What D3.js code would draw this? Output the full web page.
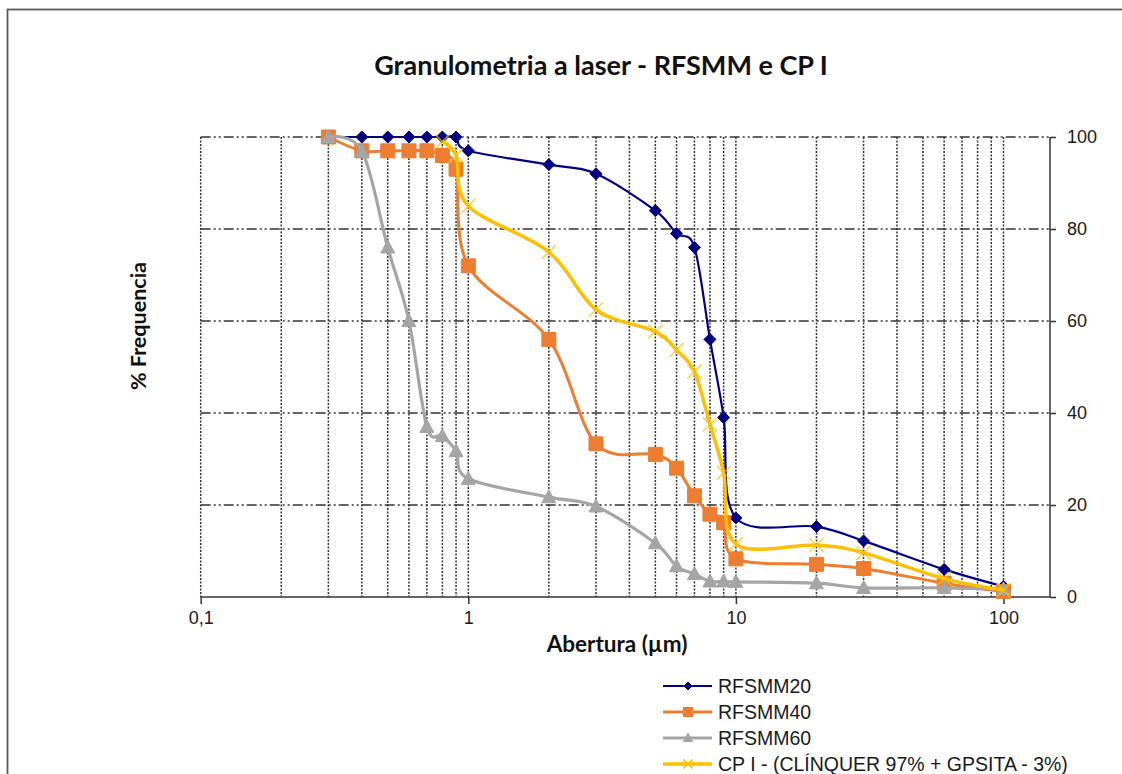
<!DOCTYPE html>
<html><head><meta charset="utf-8">
<script src="https://cdn.jsdelivr.net/npm/d3@7"></script>
<style>body{margin:0;background:#fff} svg{display:block}</style>
</head><body><svg id="c" width="1122" height="774"></svg>
<script>
// ---- data ----
const sizes = [0.3,0.4,0.5,0.6,0.7,0.8,0.9,1,2,3,5,6,7,8,9,10,20,30,60,100];
const rfsmm20 = [100,100,100,100,100,100,100,97,94,92,84,79,76,56,39,17.2,15.3,12.2,6,2.3];
const rfsmm40 = [100,97,97,97,97,96,93,72,56,33.3,31,28,22,18,16.2,8.3,7.1,6.2,3,1.2];
const rfsmm60 = [100,97,76,60,37,35,31.7,25.7,21.7,19.7,11.7,6.7,5,3.4,3.4,3.3,3,2,2,1.7];
const sizesCP = [0.8,0.9,1,2,3,5,6,7,8,9,10,20,30,60,100];
const cpI = [99,96,85,75,62.5,57.7,53.7,49,37.5,27,11.5,11.3,9.6,4,1.5];
const seriesNames = ["RFSMM20","RFSMM40","RFSMM60","CP I - (CLÍNQUER 97% + GPSITA - 3%)"];
const xTickValues = [0.1,1,10,100];
const xTickLabels = ["0,1","1","10","100"];
const yTickValues = [0,20,40,60,80,100];
const titleText = "Granulometria a laser - RFSMM e CP I";
const xTitle = "Abertura (µm)";
const yTitle = "% Frequencia";

// ---- layout ----
const svg = d3.select("#c");
const L = 200.7, R = 1050, T = 137, B = 597;
const x = d3.scaleLog().domain([0.1,100]).range([200.7,1003.5]);
const y = d3.scaleLinear().domain([0,100]).range([B,T]);

svg.append("rect").attr("width",1122).attr("height",774).attr("fill","#fff");
svg.append("rect").attr("x",7.5).attr("y",9.5).attr("width",1130).attr("height",800)
  .attr("fill","none").attr("stroke","#595959").attr("stroke-width",1.8);

// gridlines vertical (minor+major)
const vgrid = [];
[0.1,1,10].forEach(d=>{for(let k=1;k<=9;k++) vgrid.push(k*d);});
vgrid.push(100);
svg.append("g").selectAll("line").data(vgrid).join("line")
  .attr("x1",d=>x(d)).attr("x2",d=>x(d)).attr("y1",T).attr("y2",B)
  .attr("stroke","#333").attr("stroke-width",1.5).attr("stroke-dasharray","2,1.5");
// gridlines horizontal
svg.append("g").selectAll("line").data(yTickValues.filter(v=>v>0)).join("line")
  .attr("x1",L).attr("x2",R).attr("y1",d=>y(d)).attr("y2",d=>y(d))
  .attr("stroke","#333").attr("stroke-width",1.6).attr("stroke-dasharray","10,3,2,3,2,3");

// axes lines
svg.append("line").attr("x1",L).attr("x2",R).attr("y1",B).attr("y2",B).attr("stroke","#333").attr("stroke-width",1.5);
svg.append("line").attr("x1",R).attr("x2",R).attr("y1",T).attr("y2",B).attr("stroke","#333").attr("stroke-width",1.5);

const xAxis = d3.axisBottom(x).tickValues(xTickValues)
  .tickFormat((d,i)=>xTickLabels[i]).tickSize(7).tickPadding(7);
const gx = svg.append("g").attr("transform",`translate(0,${B})`).call(xAxis);
const yAxis = d3.axisRight(y).tickValues(yTickValues).tickSize(6).tickPadding(11);
const gy = svg.append("g").attr("transform",`translate(${R},0)`).call(yAxis);
[gx,gy].forEach(g=>{
  g.select(".domain").remove();
  g.selectAll(".tick line").attr("stroke","#333").attr("stroke-width",1.5);
  g.selectAll(".tick text").attr("fill","#1a1a1a").style("font-family","'Liberation Sans',Arial,sans-serif").style("font-size","18px");
});

// titles
svg.append("text").attr("x",601).attr("y",75).attr("text-anchor","middle")
  .style("font-family","Lato,'Open Sans',sans-serif").style("font-weight","bold").style("font-size","27px")
  .attr("fill","#111").text(titleText);
svg.append("text").attr("x",617).attr("y",652).attr("text-anchor","middle")
  .style("font-family","Lato,'Open Sans',sans-serif").style("font-weight","bold").style("font-size","22.5px")
  .attr("fill","#111").text(xTitle);
svg.append("text").attr("transform","translate(146,326) rotate(-90)").attr("text-anchor","middle")
  .style("font-family","Lato,'Open Sans',sans-serif").style("font-weight","bold").style("font-size","21.5px")
  .attr("fill","#111").text(yTitle);

// series
const colors = ["#000080","#ED7D31","#A5A5A5","#FFC000"];
const widths = [2.2,3,3.2,3.5];
const shapes = ["diamond","square","triangle","x"];
function markerPath(shape, s){
  if(shape==="diamond") return `M0,${-s}L${s},0L0,${s}L${-s},0Z`;
  if(shape==="square") return `M${-s},${-s}H${s}V${s}H${-s}Z`;
  if(shape==="triangle") return `M0,${-s*1.05}L${s},${s*0.8}L${-s},${s*0.8}Z`;
  return `M${-s},${-s}L${s},${s}M${-s},${s}L${s},${-s}`;
}
const data = [
  sizes.map((s,i)=>[s,rfsmm20[i]]),
  sizes.map((s,i)=>[s,rfsmm40[i]]),
  sizes.map((s,i)=>[s,rfsmm60[i]]),
  sizesCP.map((s,i)=>[s,cpI[i]])
];
const line = d3.line().x(d=>x(d[0])).y(d=>y(d[1])).curve(d3.curveCatmullRom.alpha(0));
const mSizes = [6,7,7,7];
data.forEach((pts,k)=>{
  const g = svg.append("g");
  g.append("path").attr("d",line(pts)).attr("fill","none").attr("stroke",colors[k]).attr("stroke-width",widths[k]);
  g.selectAll("path.m").data(pts).join("path").attr("class","m")
    .attr("transform",d=>`translate(${x(d[0])},${y(d[1])})`)
    .attr("d",markerPath(shapes[k],mSizes[k]))
    .attr("fill",shapes[k]==="x"?"none":colors[k])
    .attr("stroke",colors[k]).attr("stroke-width",shapes[k]==="x"?1.6:1)
    .attr("stroke-opacity",shapes[k]==="x"?0.7:1);
});

// legend
const lg = svg.append("g");
const rows = [686,712,738,764];
seriesNames.forEach((n,k)=>{
  lg.append("line").attr("x1",663).attr("x2",712).attr("y1",rows[k]).attr("y2",rows[k])
    .attr("stroke",colors[k]).attr("stroke-width",widths[k]);
  lg.append("path").attr("transform",`translate(688,${rows[k]})`)
    .attr("d",markerPath(shapes[k],k===0?4:4.5))
    .attr("fill",shapes[k]==="x"?"none":colors[k]).attr("stroke",colors[k]).attr("stroke-width",shapes[k]==="x"?1.5:1);
  lg.append("text").attr("x",718).attr("y",rows[k]+7)
    .style("font-family","'Liberation Sans',Arial,sans-serif").style("font-size","19.5px")
    .attr("fill","#1a1a1a").text(n);
});
</script></body></html>
